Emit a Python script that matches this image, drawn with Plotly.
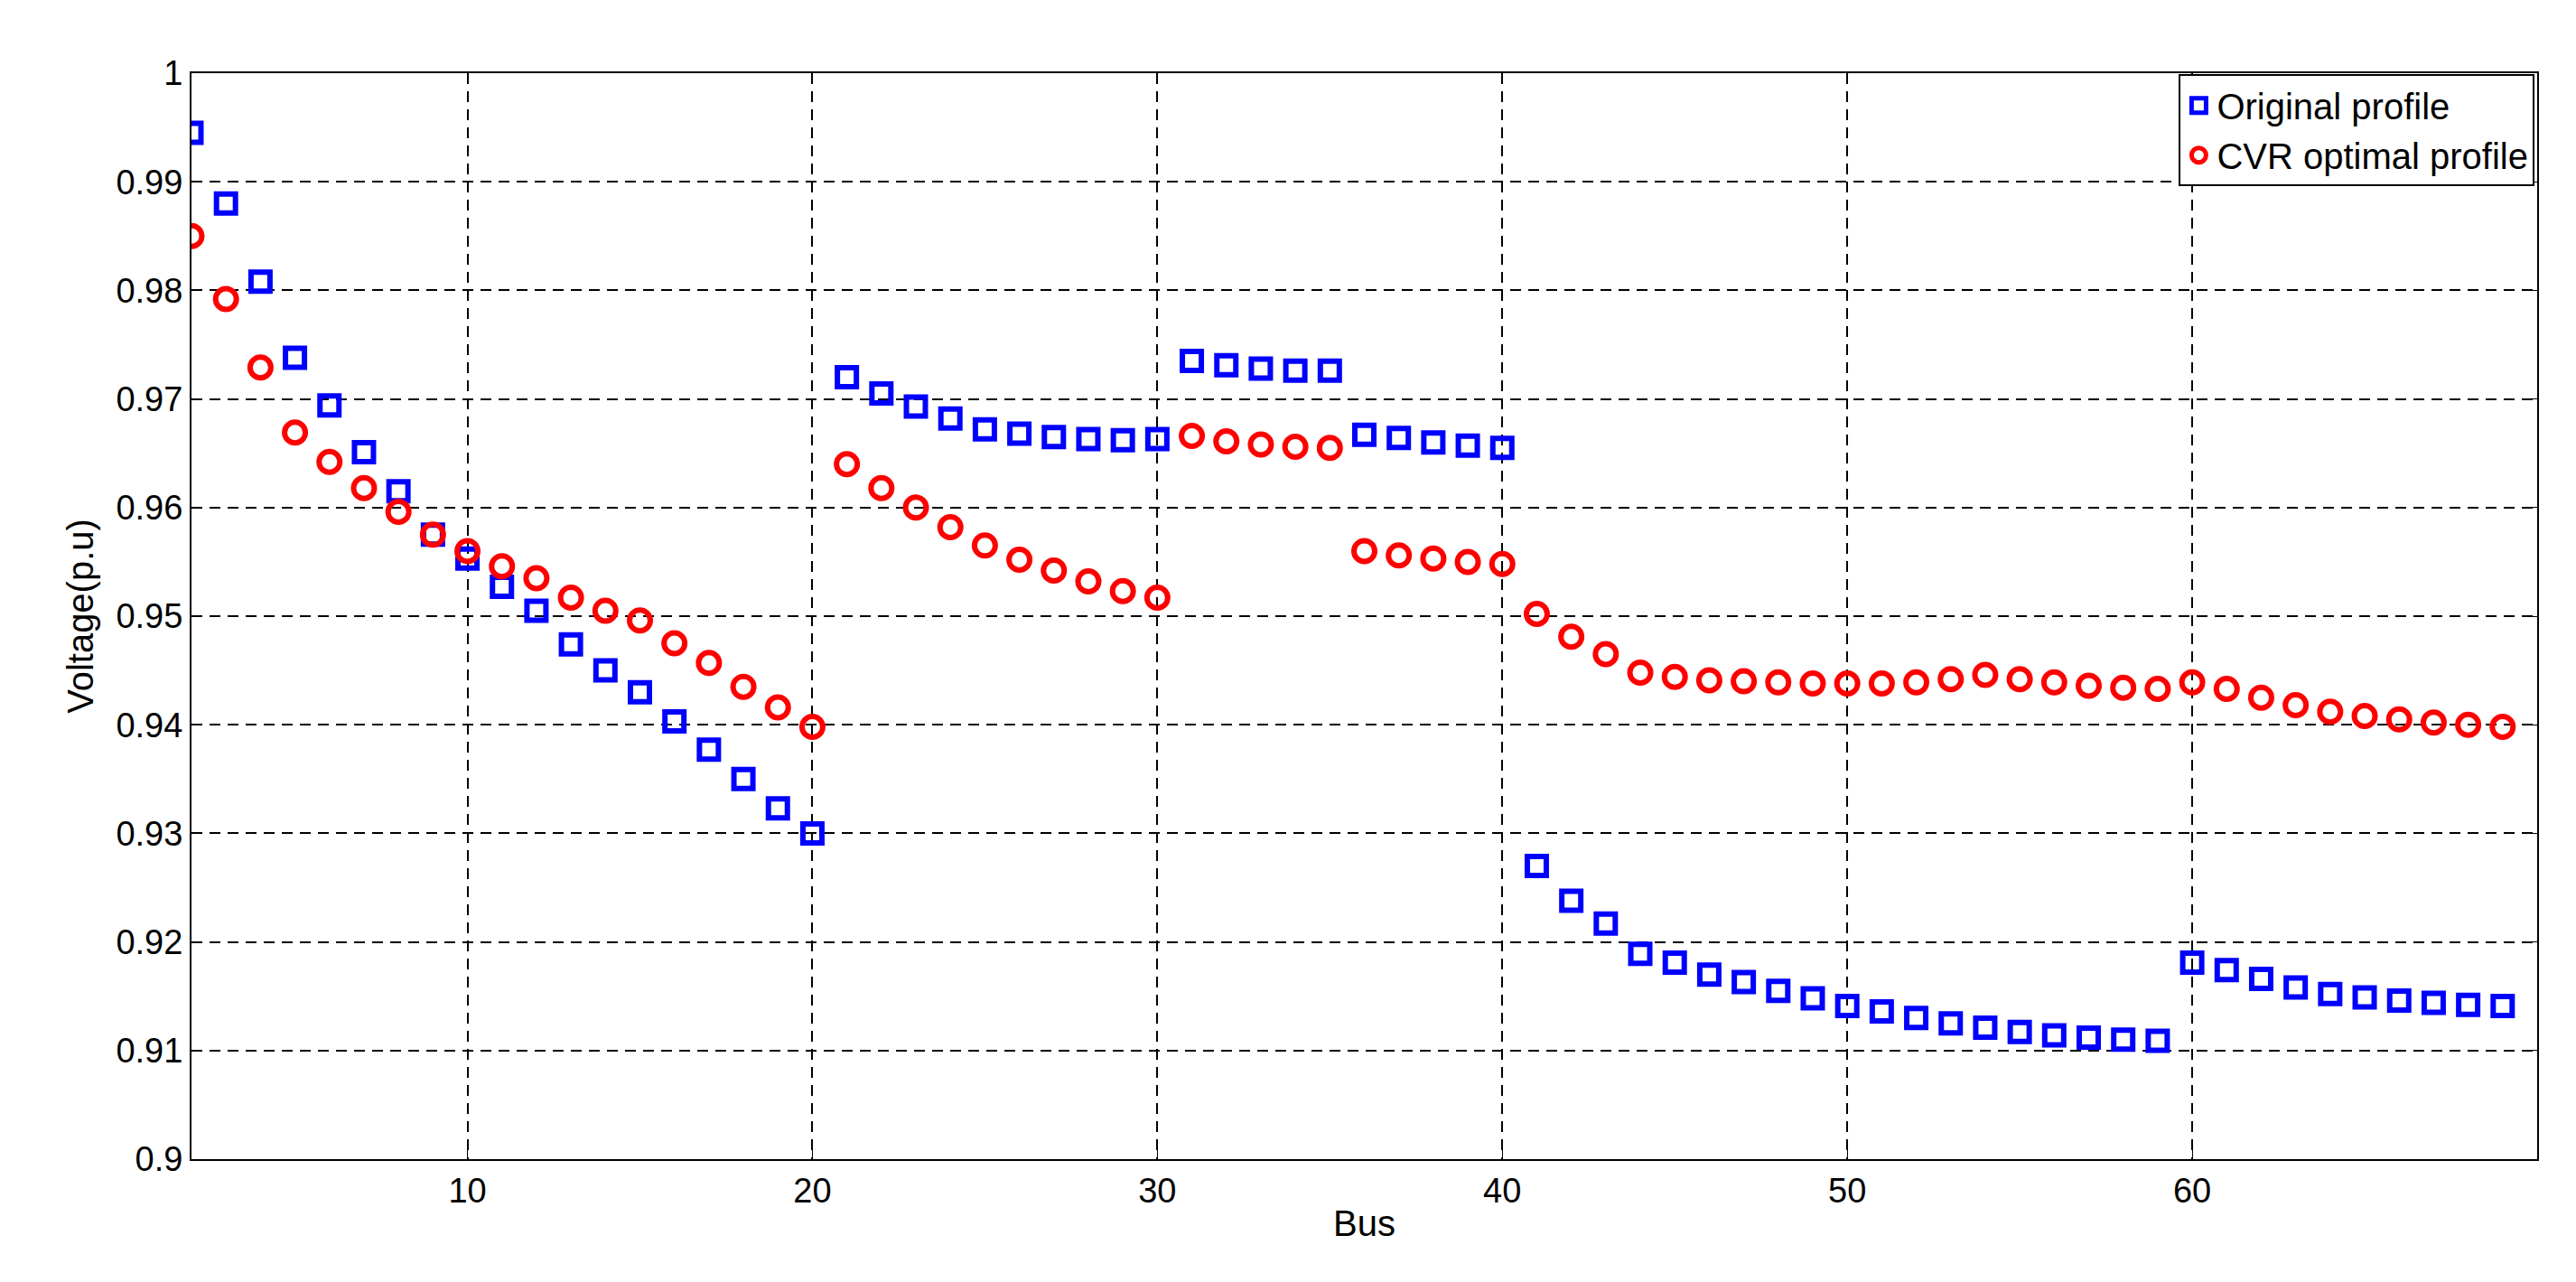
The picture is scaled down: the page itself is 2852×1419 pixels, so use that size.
import plotly.graph_objects as go

bus = list(range(2, 70))
original = [0.9945,0.988,0.9808,0.9738,0.9694,0.9651,0.9615,0.9575,0.9553,0.9527,0.9505,0.9474,0.9450,0.9430,0.9403,0.9377,0.9350,0.9323,0.9300,
0.9720,0.9705,0.9693,0.9682,0.9672,0.9668,0.9665,0.9663,0.9662,0.9663,
0.9735,0.9731,0.9728,0.9726,0.9726,
0.9667,0.9664,0.9660,0.9657,0.9655,
0.9270,0.9238,0.9217,0.9189,0.9181,0.9170,0.9163,0.9155,0.9148,0.9141,0.9136,0.9130,0.9125,0.9121,0.9117,0.9114,0.9112,0.9110,0.9109,
0.9181,0.9174,0.9166,0.9158,0.9152,0.9149,0.9146,0.9144,0.9142,0.9141]
cvr = [0.9850,0.9792,0.9729,0.9669,0.9642,0.9618,0.9596,0.9575,0.9560,0.9546,0.9535,0.9517,0.9505,0.9496,0.9475,0.9457,0.9435,0.9416,0.9398,
0.9640,0.9618,0.9600,0.9582,0.9565,0.9552,0.9542,0.9532,0.9523,0.9517,
0.9666,0.9661,0.9658,0.9656,0.9655,
0.9560,0.9556,0.9553,0.9550,0.9548,
0.9502,0.9481,0.9465,0.9448,0.9444,0.9441,0.9440,0.9439,0.9438,0.9438,0.9438,0.9439,0.9442,0.9446,0.9442,0.9439,0.9436,0.9434,0.9433,
0.9439,0.9433,0.9425,0.9418,0.9412,0.9408,0.9405,0.9402,0.9400,0.9398]
yticks = [0.9,0.91,0.92,0.93,0.94,0.95,0.96,0.97,0.98,0.99,1]
ylabels = ["0.9","0.91","0.92","0.93","0.94","0.95","0.96","0.97","0.98","0.99","1"]
xticks = [10,20,30,40,50,60]

fig = go.Figure()
fig.add_trace(go.Scatter(x=bus, y=original, mode="markers", name="Original profile",
    marker=dict(symbol="square-open", size=21, color="blue", line=dict(width=6, color="blue"))))
fig.add_trace(go.Scatter(x=bus, y=cvr, mode="markers", name="CVR optimal profile",
    marker=dict(symbol="circle-open", size=23, color="red", line=dict(width=6, color="red"))))

ax = dict(showline=True, linecolor="black", linewidth=2, mirror="ticks", ticks="inside",
          ticklen=10, tickcolor="black", showgrid=True, gridcolor="black", griddash="12px,8px",
          gridwidth=1.5, zeroline=False, tickfont=dict(size=38, color="black"))
fig.update_layout(
    width=2852, height=1419, paper_bgcolor="white", plot_bgcolor="white",
    font=dict(family="Liberation Sans, Arial", color="black", size=38),
    margin=dict(l=204, r=51, t=73, b=144),
    xaxis=dict(range=[2, 70], tickvals=xticks, title=dict(text="Bus", font=dict(size=40), standoff=2), **ax),
    yaxis=dict(range=[0.9, 1.0], tickvals=yticks, ticktext=ylabels,
               title=dict(text="Voltage(p.u)", font=dict(size=40), standoff=12), **ax),
    legend=dict(x=0.999, y=0.999, xanchor="right", yanchor="top", bgcolor="white",
                bordercolor="black", borderwidth=2, font=dict(size=40)),
)
fig.write_html("out.html")
